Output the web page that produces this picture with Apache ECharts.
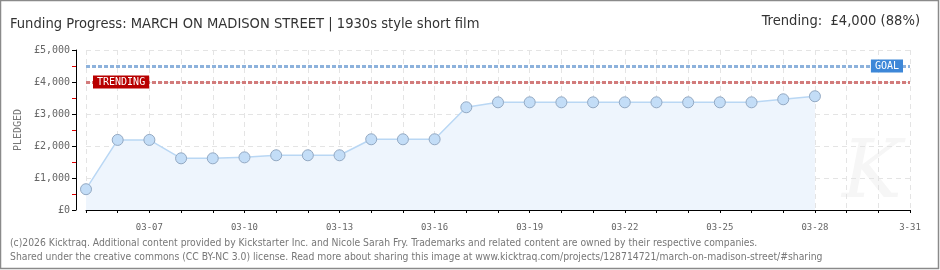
<!DOCTYPE html>
<html><head><meta charset="utf-8">
<script src="https://cdn.jsdelivr.net/npm/echarts@6/dist/echarts.min.js"></script>
<style>html,body{margin:0;padding:0;background:#fff}#c{width:940px;height:270px}</style>
</head><body><div id="c"></div>
<script>
const titleText = 'Funding Progress: MARCH ON MADISON STREET | 1930s style short film';
const trendingText = 'Trending:  £4,000 (88%)';
const footer1 = '(c)2026 Kicktraq. Additional content provided by Kickstarter Inc. and Nicole Sarah Fry. Trademarks and related content are owned by their respective companies.';
const footer2 = 'Shared under the creative commons (CC BY-NC 3.0) license. Read more about sharing this image at www.kicktraq.com/projects/128714721/march-on-madison-street/#sharing';
const dates = ['03-05','03-06','03-07','03-08','03-09','03-10','03-11','03-12','03-13','03-14','03-15','03-16','03-17','03-18','03-19','03-20','03-21','03-22','03-23','03-24','03-25','03-26','03-27','03-28','03-29','03-30','03-31'];
const shownLabels = {'03-07':'03-07','03-10':'03-10','03-13':'03-13','03-16':'03-16','03-19':'03-19','03-22':'03-22','03-25':'03-25','03-28':'03-28','03-31':'3-31'};
const pledged = [650,2190,2190,1615,1615,1645,1710,1710,1710,2210,2210,2210,3210,3365,3365,3365,3365,3365,3365,3365,3365,3365,3460,3555,null,null,null];
const goal = 4500;
const trending = 4000;
const yTicks = [0,1000,2000,3000,4000,5000];

const pixFont = '"DejaVu Sans Mono", monospace';
const chart = echarts.init(document.getElementById('c'), null, {renderer:'canvas'});
chart.setOption({
  animation:false,
  backgroundColor:'#fff',
  grid:{left:86, right:30, top:50, bottom:60},
  graphic:[
    {type:'rect', shape:{x:0.5,y:0.5,width:938,height:268}, style:{fill:'none', stroke:'#8a8a8a', lineWidth:1.5}, silent:true},
    {type:'text', left:10, top:17, style:{text:titleText, font:'14.6px "Liberation Sans Narrow", "DejaVu Sans Condensed", sans-serif', fill:'#333'}},
    {type:'text', right:20, top:14, style:{text:trendingText, font:'14.6px "Liberation Sans Narrow", "DejaVu Sans Condensed", sans-serif', fill:'#333'}},
    {type:'text', left:10, top:238, style:{text:footer1, font:'10.3px "DejaVu Sans Condensed", sans-serif', fill:'#777'}},
    {type:'text', left:10, top:252, style:{text:footer2, font:'10.3px "DejaVu Sans Condensed", sans-serif', fill:'#777'}},
    {type:'text', left:842, top:136, z:-1, style:{text:'K', font:'italic 80px "DejaVu Serif", serif', fill:'#f6f6f6'}}
  ],
  xAxis:{
    type:'category', data:dates, boundaryGap:false, offset:9,
    axisLine:{lineStyle:{color:'#000', width:1}},
    axisTick:{show:true, interval:0, length:3, lineStyle:{color:'#000'}},
    axisLabel:{interval:0, formatter:(v)=>shownLabels[v]||'', color:'#666', fontSize:9, fontFamily:pixFont, margin:4},
    splitLine:{show:true, interval:0, lineStyle:{color:'#e4e4e4', type:[5,4]}}
  },
  yAxis:{
    type:'value', min:yTicks[0], max:yTicks[yTicks.length-1], interval:1000, offset:10,
    name:'PLEDGED', nameLocation:'middle', nameGap:49, nameRotate:90,
    nameTextStyle:{color:'#777', fontSize:10, fontFamily:pixFont},
    axisLine:{show:true, lineStyle:{color:'#000'}},
    axisTick:{show:true, length:4, lineStyle:{color:'#000'}},
    minorTick:{show:true, splitNumber:2, length:4, lineStyle:{color:'#e00000'}},
    axisLabel:{color:'#666', fontSize:10, fontFamily:pixFont, margin:6, formatter:(v)=>'£'+v.toLocaleString('en-US')},
    splitLine:{show:true, lineStyle:{color:'#e4e4e4', type:[5,4]}}
  },
  series:[{
    type:'line', data:pledged, connectNulls:false,
    symbol:'circle', symbolSize:11, showAllSymbol:true,
    lineStyle:{color:'#b9d7f4', width:1.5},
    itemStyle:{color:'#c3ddf7', borderColor:'#93a9c3', borderWidth:1},
    areaStyle:{color:'#eef5fd', opacity:1},
    markLine:{
      silent:true, symbol:'none',
      data:[
        {yAxis:goal, lineStyle:{color:'#8db2dc', width:3, type:[4,2]},
         label:{show:true, position:'insideEnd', formatter:'GOAL', color:'#fff', backgroundColor:'#3d87d8', padding:[2,4,1,4], fontSize:10, fontFamily:pixFont, distance:[7,-7]}},
        {yAxis:trending, lineStyle:{color:'#d27b7b', width:3, type:[4,2]},
         label:{show:true, position:'insideStart', formatter:'TRENDING', color:'#fff', backgroundColor:'#b80000', padding:[2,4,1,4], fontSize:10, fontFamily:pixFont, distance:[7,-7]}}
      ]
    }
  }]
});
</script></body></html>
